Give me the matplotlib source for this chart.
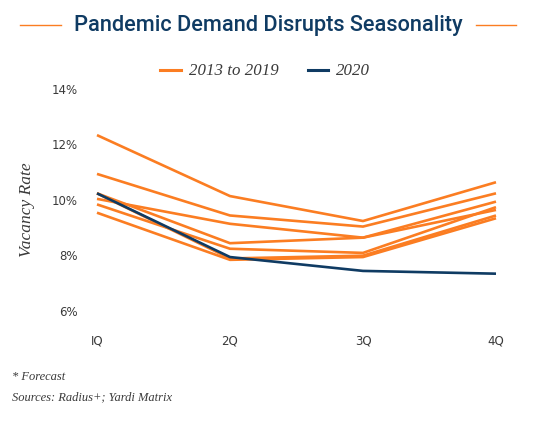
import matplotlib.pyplot as plt
import matplotlib.lines as mlines

quarters = ["IQ", "2Q", "3Q", "4Q"]
y2013 = [12.3, 10.1, 9.2, 10.6]
y2014 = [10.9, 9.4, 9.0, 10.2]
y2015 = [10.0, 9.1, 8.6, 9.9]
y2016 = [10.2, 8.4, 8.6, 9.6]
y2017 = [9.8, 8.2, 8.05, 9.7]
y2018 = [10.2, 7.85, 7.95, 9.4]
y2019 = [9.5, 7.8, 7.9, 9.3]
y2020 = [10.2, 7.9, 7.4, 7.3]
yticks = [6, 8, 10, 12, 14]

orange = "#fb7d22"
navy = "#0f3b63"
grey = "#3a3a3a"

fig = plt.figure(figsize=(5.6, 4.31), dpi=100)
ax = fig.add_axes([0.1732, 0.2791, 0.7125, 0.5144])

x = range(len(quarters))
for ys in [y2013, y2014, y2015, y2016, y2017, y2018, y2019]:
    ax.plot(x, ys, color=orange, lw=1.9, clip_on=False, solid_capstyle="butt")
ax.plot(x, y2020, color=navy, lw=1.9, clip_on=False, solid_capstyle="butt")

ax.set_xlim(0, 3)
ax.set_ylim(6, 14)
ax.set_xticks(list(x))
ax.set_xticklabels(quarters)
ax.set_yticks(yticks)
ax.set_yticklabels([f"{v}%" for v in yticks])
ax.tick_params(length=0, labelsize=8.5, colors=grey, pad=14)
ax.tick_params(axis="x", pad=17)
for s in ax.spines.values():
    s.set_visible(False)
fig.text(27 / 560, 1 - 210 / 431, "Vacancy Rate", rotation=90, ha="center", va="center",
         family="Liberation Serif", style="italic", fontsize=12.5, color=grey)

# title with the orange rules on both sides
ty = 1 - 26 / 431
fig.text(268 / 560, ty, "Pandemic Demand Disrupts Seasonality", ha="center",
         va="center", fontsize=15.7, family="Roboto", weight="medium", color=navy)
fig.add_artist(mlines.Line2D([20 / 560, 61 / 560], [ty] * 2, color=orange, lw=1))
fig.add_artist(mlines.Line2D([476 / 560, 516 / 560], [ty] * 2, color=orange, lw=1))

# legend
ly = 1 - 71 / 431
fig.add_artist(mlines.Line2D([160 / 560, 181 / 560], [ly] * 2, color=orange, lw=2.2))
fig.text(189 / 560, ly, "2013 to 2019", va="center", fontsize=12.2,
         family="Liberation Serif", style="italic", color=grey)
fig.add_artist(mlines.Line2D([308 / 560, 328 / 560], [ly] * 2, color=navy, lw=2.2))
fig.text(336 / 560, ly, "2020", va="center", fontsize=12.2,
         family="Liberation Serif", style="italic", color=grey)

fig.text(12 / 560, 1 - 377 / 431, "* Forecast", va="center", fontsize=9,
         family="Liberation Serif", style="italic", color=grey)
fig.text(12 / 560, 1 - 397 / 431, "Sources: Radius+; Yardi Matrix", va="center", fontsize=9,
         family="Liberation Serif", style="italic", color=grey)

fig.savefig("out.png", dpi=100)
